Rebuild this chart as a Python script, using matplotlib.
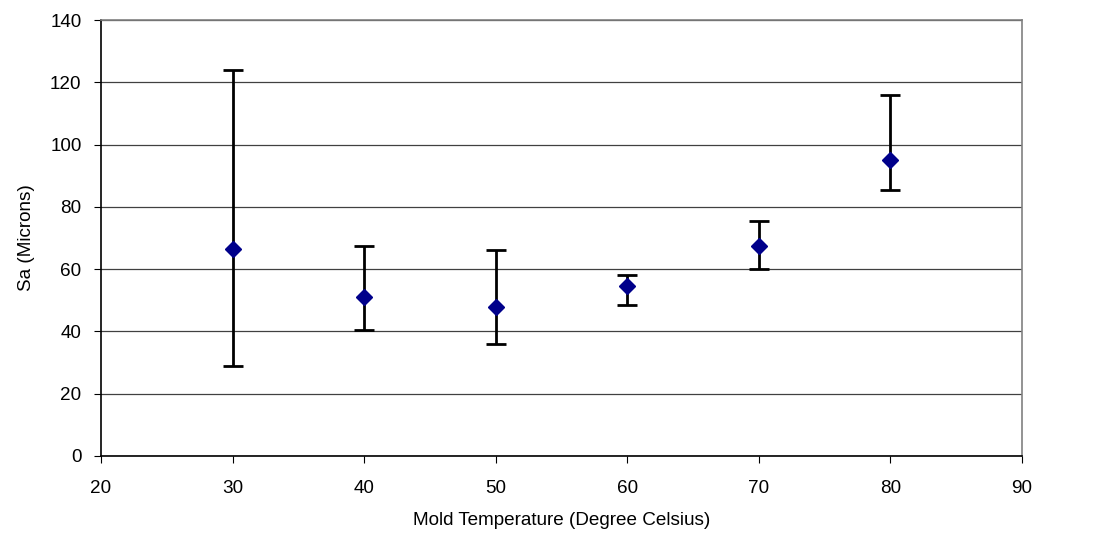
import matplotlib
matplotlib.use("Agg")
import matplotlib.pyplot as plt

temps = [30, 40, 50, 60, 70, 80]
sa_mean = [66.5, 51.2, 47.8, 54.5, 67.4, 95.0]
sa_top = [124.0, 67.5, 66.1, 58.1, 75.5, 116.0]
sa_bottom = [28.9, 40.5, 36.0, 48.5, 60.0, 85.4]

err_low = [m - b for m, b in zip(sa_mean, sa_bottom)]
err_high = [t - m for t, m in zip(sa_top, sa_mean)]

plt.rcParams["font.family"] = ["Liberation Sans", "DejaVu Sans"]

fig = plt.figure(figsize=(11, 5.47), dpi=100)
ax = fig.add_axes([0.0918, 0.1664, 0.8373, 0.797])

# gridlines first so markers sit on top
ax.yaxis.grid(True, color="#404040", linewidth=0.9)
ax.set_axisbelow(True)

ax.errorbar(
    temps, sa_mean,
    yerr=[err_low, err_high],
    fmt="D",
    color="#00008B",
    markersize=8,
    ecolor="black",
    elinewidth=2,
    capsize=7,
    capthick=2,
    zorder=3,
)

ax.set_xlim(20, 90)
ax.set_ylim(0, 140)
ax.set_xticks(range(20, 91, 10))
ax.set_yticks(range(0, 141, 20))

ax.spines["left"].set_color("black")
ax.spines["bottom"].set_color("black")
ax.spines["top"].set_color("#808080")
ax.spines["right"].set_color("#808080")
for s in ax.spines.values():
    s.set_linewidth(1.2)

ax.tick_params(direction="out", length=5, labelsize=13.6, color="black")
ax.tick_params(axis="x", pad=12)
ax.tick_params(axis="y", pad=9)
ax.set_xlabel("Mold Temperature (Degree Celsius)", fontsize=13.6, labelpad=11)
ax.set_ylabel("Sa (Microns)", fontsize=13.6, labelpad=11)

fig.savefig("out.png", dpi=100)
